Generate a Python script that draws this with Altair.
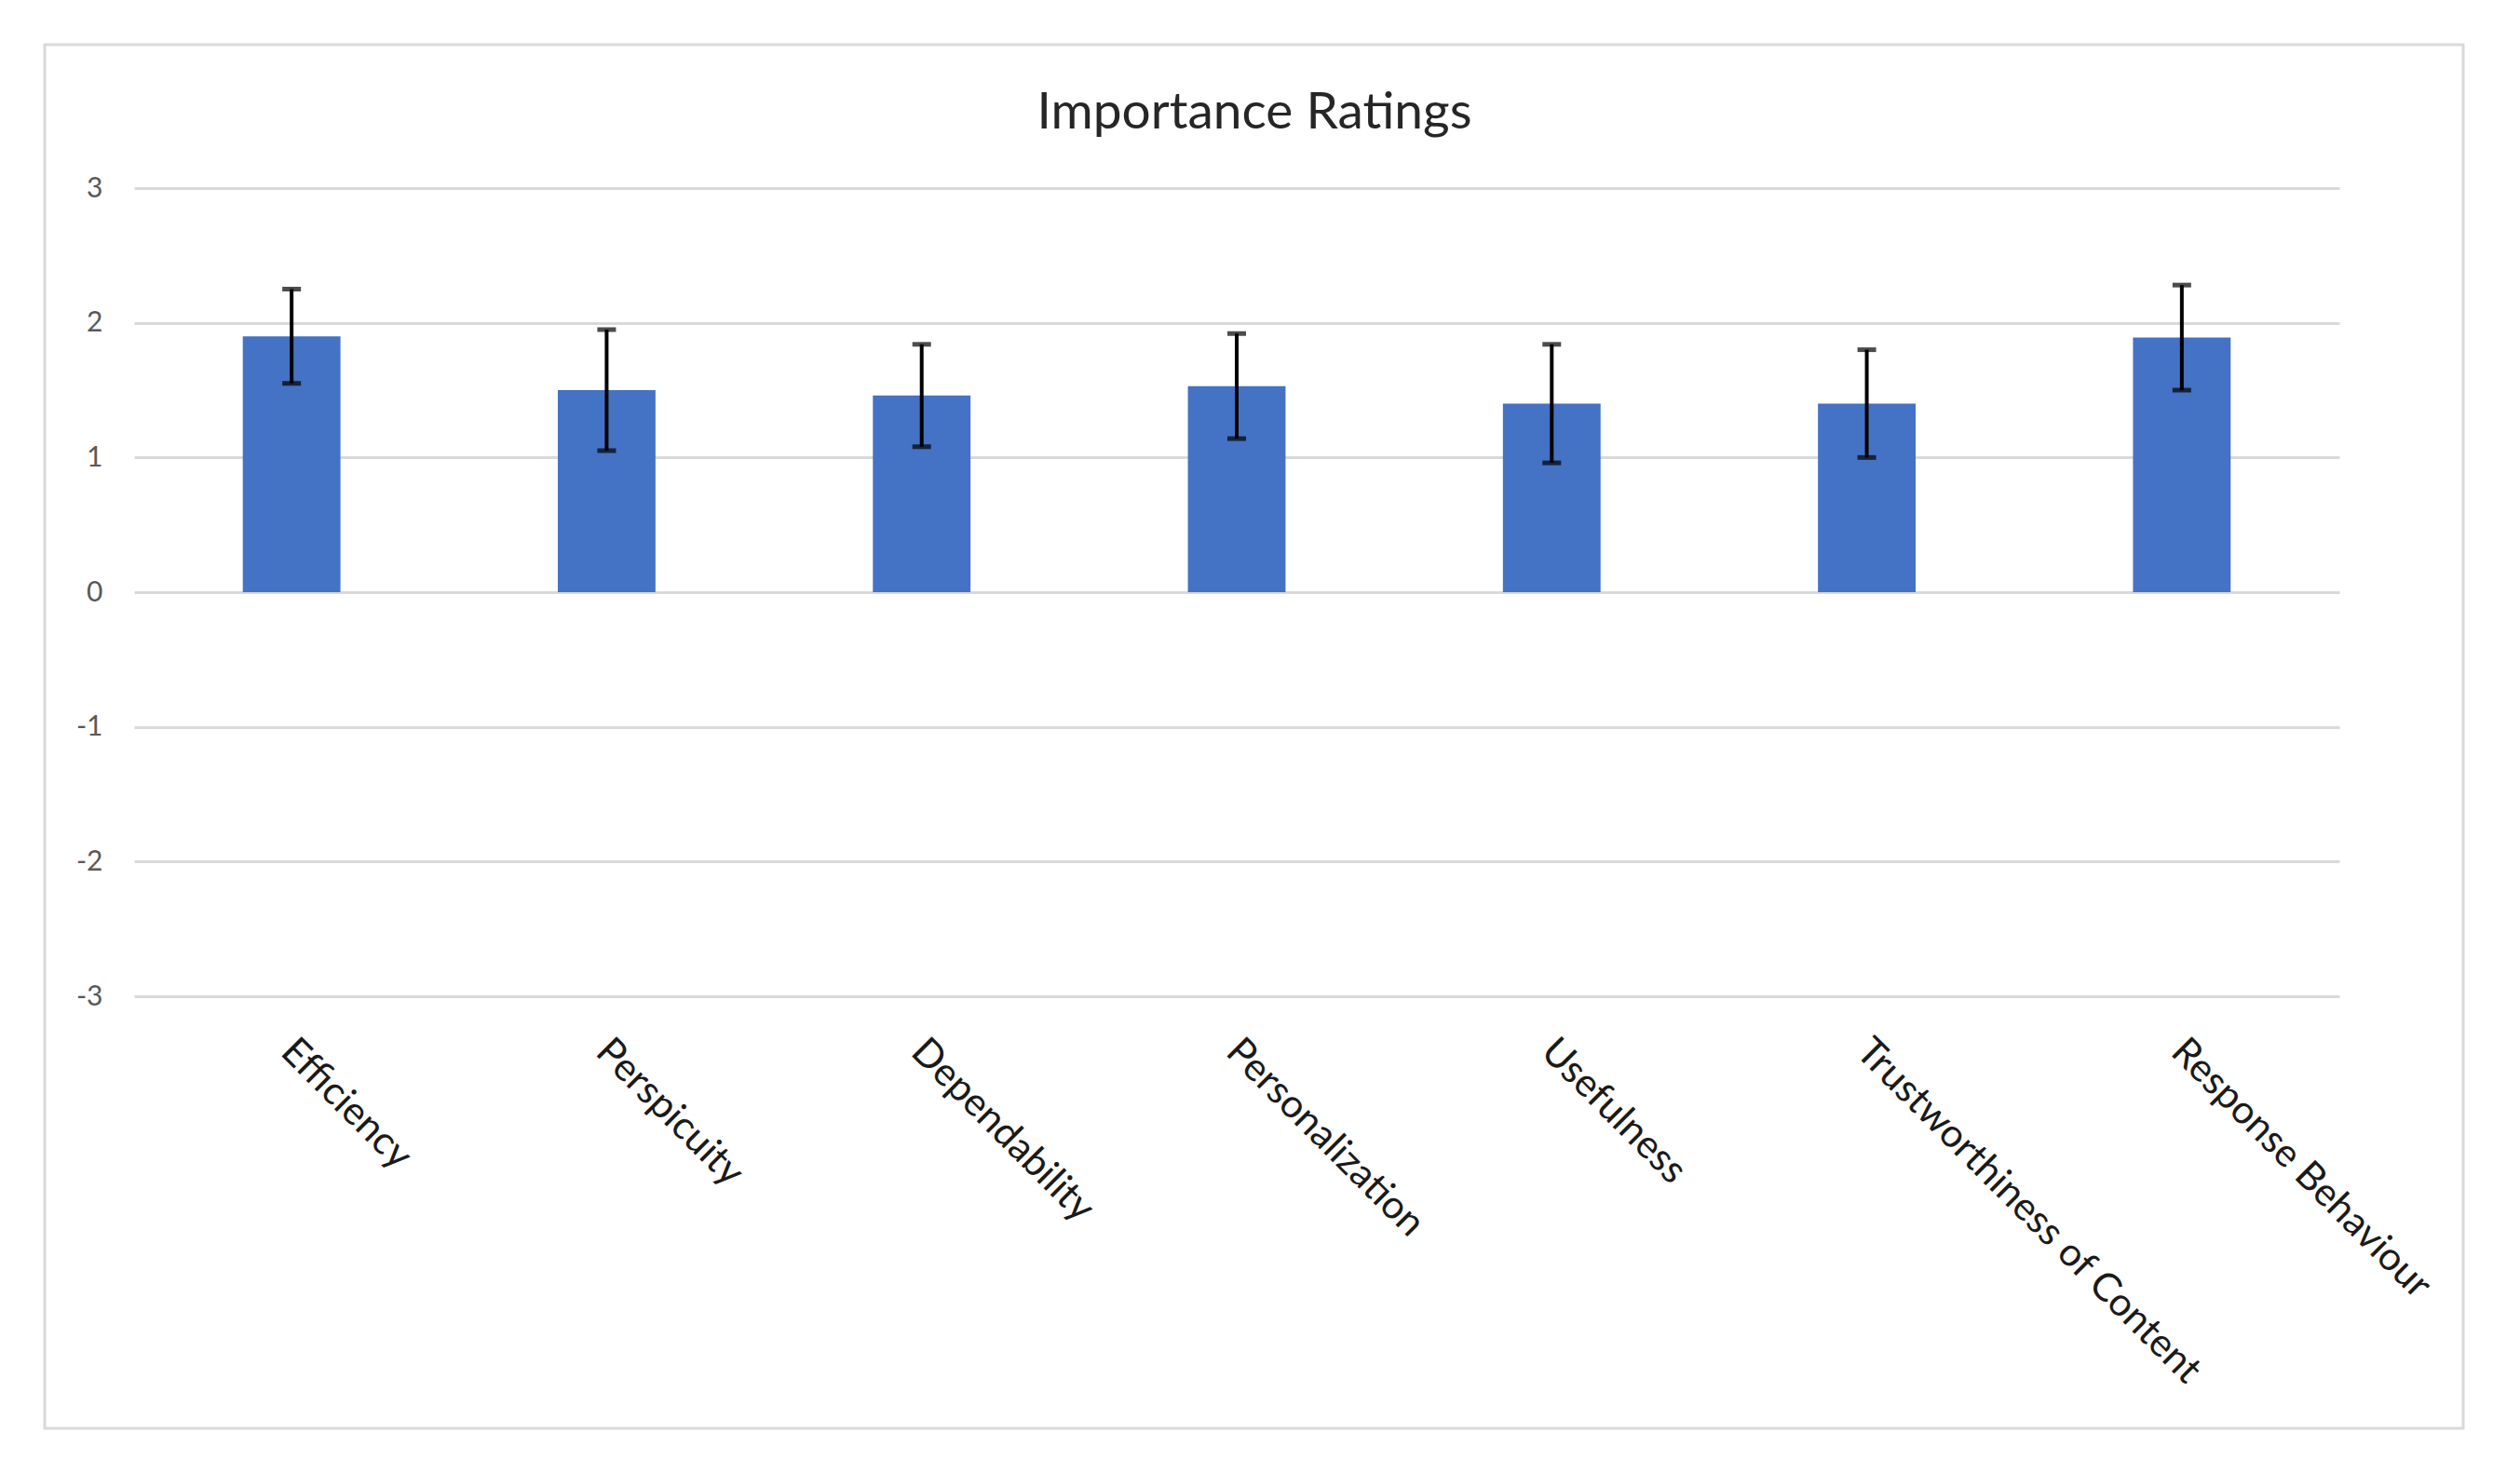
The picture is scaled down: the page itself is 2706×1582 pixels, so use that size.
import altair as alt
import pandas as pd

categories = ["Efficiency", "Perspicuity", "Dependability", "Personalization",
              "Usefulness", "Trustworthiness of Content", "Response Behaviour"]
means = [1.90, 1.50, 1.46, 1.53, 1.40, 1.40, 1.89]
errors = [0.35, 0.45, 0.38, 0.39, 0.44, 0.40, 0.39]
y_ticks = [-3, -2, -1, 0, 1, 2, 3]

df = pd.DataFrame({"category": categories, "mean": means, "err": errors})
df["lower"] = df["mean"] - df["err"]
df["upper"] = df["mean"] + df["err"]

FONT = "Lato"
W, H = 2368, 868

x_enc = alt.X(
    "category:N", sort=categories,
    scale=alt.Scale(paddingInner=0.69, paddingOuter=0.345),
    axis=alt.Axis(title=None, labelAngle=45, labelAlign="left", labelBaseline="top",
                  labelPadding=38, labelOffset=10, ticks=False, domain=False, grid=False,
                  labelFont=FONT, labelFontSize=42, labelColor="#1a1a1a",
                  labelLimit=1000),
)
y_scale = alt.Scale(domain=[-3, 3], nice=False, zero=False)

base = alt.Chart(df)

bars = base.mark_bar(color="#4472C4").encode(
    x=x_enc,
    y=alt.Y("mean:Q", scale=y_scale,
            axis=alt.Axis(values=y_ticks, labelExpr="'' + datum.value", title=None,
                          domain=False, ticks=False,
                          grid=True, gridColor="#d9d9d9", gridWidth=3,
                          labelFont=FONT, labelFontSize=30, labelColor="#595959",
                          labelPadding=34)),
)

x_plain = alt.X("category:N", sort=categories)

rule = base.mark_rule(color="black", strokeWidth=4).encode(
    x=x_plain,
    y=alt.Y("lower:Q", scale=y_scale),
    y2="upper:Q",
)
cap_lo = base.mark_tick(color="black", thickness=5, size=20).encode(
    x=x_plain,
    y=alt.Y("lower:Q", scale=y_scale),
)
cap_hi = base.mark_tick(color="black", thickness=5, size=20).encode(
    x=x_plain,
    y=alt.Y("upper:Q", scale=y_scale),
)

frame = alt.Chart(pd.DataFrame({"f": [0]})).mark_rect(
    filled=False, stroke="#d9d9d9", strokeWidth=3, clip=False
).encode(
    x=alt.value(-96), x2=alt.value(2501), y=alt.value(-154), y2=alt.value(1332)
)

chart = (
    alt.layer(frame, bars, rule, cap_lo, cap_hi)
    .properties(
        width=W, height=H,
        title=alt.Title("Importance Ratings", font=FONT, fontSize=55, color="#262626",
                        fontWeight="normal", anchor="middle", offset=-103, dx=19),
        autosize=alt.AutoSizeParams(type="none"),
        padding={"left": 136, "top": 194, "right": 143, "bottom": 474},
    )
    .configure(background="white")
    .configure_view(stroke=None, strokeWidth=0)
    .configure_axis(domain=False)
)

chart.save("out.html", embed_options={"renderer": "svg", "actions": False})
